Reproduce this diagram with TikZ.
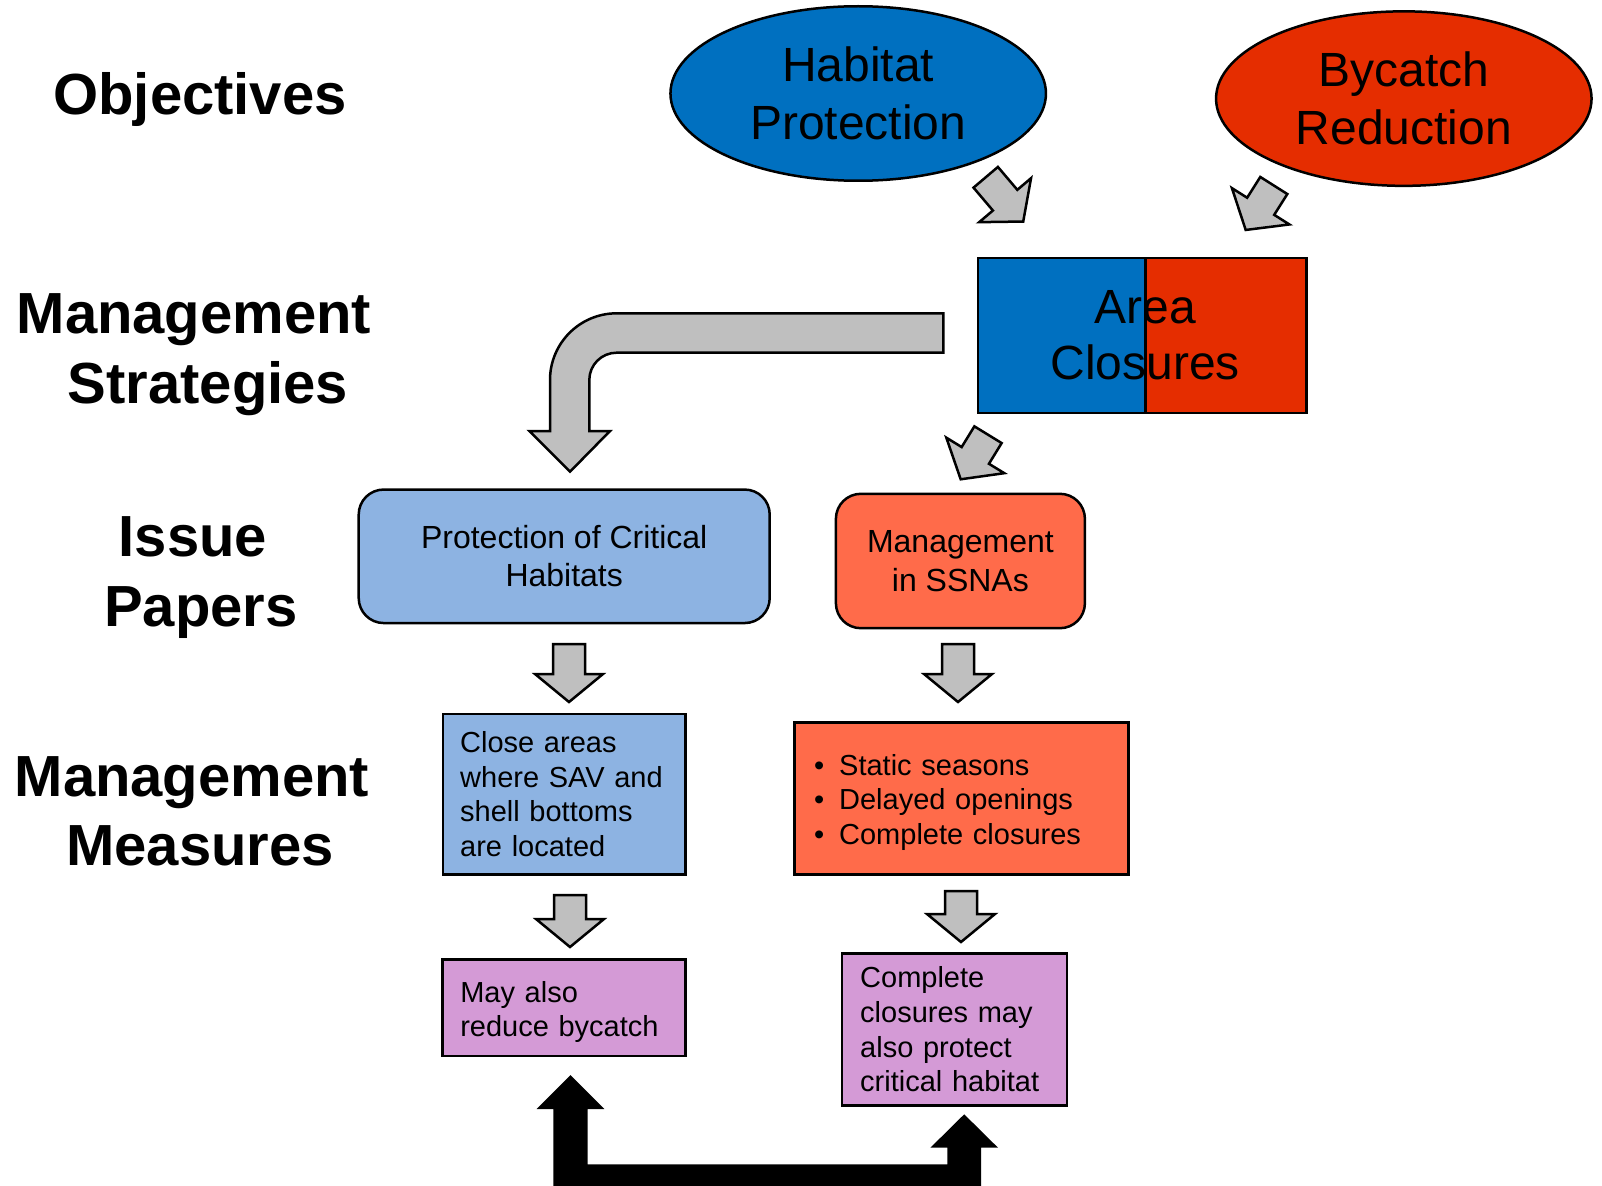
\documentclass[tikz,border=0pt]{standalone}
\usepackage{fontspec}
\setmainfont{Liberation Sans}
\usetikzlibrary{shapes.geometric}
\definecolor{hpblue}{HTML}{0070C0}
\definecolor{brred}{HTML}{E52D00}
\definecolor{lblue}{HTML}{8DB3E2}
\definecolor{coral}{HTML}{FF6B4A}
\definecolor{lilac}{HTML}{D49AD6}
\definecolor{garrowfill}{HTML}{BFBFBF}
\tikzset{
  garrow/.style={draw=black, fill=garrowfill, line width=2.5pt, line join=miter},
  pics/blockarrow/.style={code={\draw[garrow] (0,16) -- ({#1-28},16) -- ({#1-28},34) -- (#1,0) -- ({#1-28},-34) -- ({#1-28},-16) -- (0,-16) -- cycle;}},
  hdr/.style={font=\fontsize{58}{69.6}\selectfont\bfseries, align=center, inner sep=0pt, anchor=base},
  objell/.style={ellipse, draw, line width=2.5pt, inner sep=0pt, align=center, font=\fontsize{48}{57.6}\selectfont},
  issuebox/.style={draw, line width=2.5pt, rounded corners=25pt, inner sep=0pt, align=center, font=\fontsize{32}{38.4}\selectfont},
  measurebox/.style={draw, line width=2.5pt, inner sep=0pt, align=left, font=\fontsize{29}{34.6}\selectfont},
}
\begin{document}
\begin{tikzpicture}[x=1pt, y=-1pt]
\useasboundingbox (0,0) rectangle (1602,1185);
\fill[white] (0,0) rectangle (1602,1185);
\clip (0,0) rectangle (1602,1185);

% row labels (base anchor = baseline of the last line)
\node[hdr] (lobj) at (200,115) {Objectives};
\node[hdr] (lstr) at (202,403) {Management\makebox[16pt]{}\\\makebox[12pt]{}Strategies};
\node[hdr] (liss) at (201,626.5) {Issue\makebox[16pt]{}\\Papers};
\node[hdr] (lmea) at (200,865.8) {Management\makebox[16pt]{}\\Measures};

% objectives
\node[objell, fill=hpblue, minimum width=375.5pt, minimum height=174.5pt] (hab) at (858.2,93.5) {Habitat\\Protection};
\node[objell, fill=brred, minimum width=375.5pt, minimum height=174.5pt] (byc) at (1403.8,98.6) {Bycatch\\Reduction};

% strategy
\node[draw, line width=2.5pt, minimum width=328.5pt, minimum height=154.8pt, inner sep=0pt,
      align=center, font=\fontsize{48}{56.7}\selectfont,
      path picture={
        \fill[hpblue] (path picture bounding box.north west) rectangle ([xshift=3.5pt]path picture bounding box.south);
        \fill[brred] ([xshift=3.5pt]path picture bounding box.north) rectangle (path picture bounding box.south east);
        \draw[line width=2.5pt] ([xshift=3.5pt]path picture bounding box.north) -- ([xshift=3.5pt]path picture bounding box.south);
      }] (area) at (1142.2,335.35) {\makebox[6pt]{}Area\\\makebox[6pt]{}Closures};

% arrows objectives -> strategy
\pic[rotate=-49.7] at (985.7,177.3) {blockarrow=58};
\pic[rotate=-122.3] at (1273.8,185.5) {blockarrow=52.6};
% strategy -> issue papers
\pic[rotate=-121.5] at (988,434.7) {blockarrow=52.3};
\draw[garrow] (943.3,313.3) -- (616.7,313.3) arc[start angle=90, end angle=180, radius=66.7pt]
  -- (550,431) -- (529.3,431) -- (570,471.7) -- (610,431) -- (589.3,431) -- (589.3,380)
  arc[start angle=180, end angle=90, radius=27.3pt] -- (943.3,352.7) -- cycle;

% issue papers
\node[issuebox, fill=lblue, minimum width=411pt, minimum height=133.5pt] (prot) at (564.2,556.3) {Protection of Critical\\Habitats};
\node[issuebox, fill=coral, minimum width=249pt, minimum height=134.4pt] (ssna) at (960.4,561) {Management\\in SSNAs};

\pic[rotate=-90] at (569,644) {blockarrow=58};
\pic[rotate=-90] at (958,644) {blockarrow=58};

% measures
\node[measurebox, fill=lblue, minimum width=242.5pt, minimum height=160.5pt, text width=208pt] (close) at (564.2,794.2)
  {Close areas\\where SAV and\\shell bottoms\\are located};
\node[measurebox, fill=coral, minimum width=334pt, minimum height=152pt, text width=295pt] (bul) at (961.7,798.4)
  {\rule{0pt}{29pt}\makebox[25pt][l]{\textbullet}Static seasons\\\makebox[25pt][l]{\textbullet}Delayed openings\\\makebox[25pt][l]{\textbullet}Complete closures};

\pic[rotate=-90] at (570,895) {blockarrow=52};
\pic[rotate=-90] at (961,891) {blockarrow=51};

\node[measurebox, fill=lilac, minimum width=242.7pt, minimum height=96.6pt, text width=207.5pt] (may) at (564,1007.9)
  {\rule{0pt}{29pt}May also\\reduce bycatch};
\node[measurebox, fill=lilac, minimum width=225pt, minimum height=152pt, text width=188.6pt] (cc) at (954.5,1029.5)
  {Complete\\closures may\\also protect\\critical habitat};

% black double arrow between may and cc
\coordinate (tipl) at (570.5,1075);
\coordinate (tipr) at (964.2,1114.3);
\fill[black] (tipl) -- (604.3,1109) -- (587.7,1109) -- (587.7,1164.3) -- (947.3,1164.3) -- (947.3,1147.7)
  -- (930.4,1147.7) -- (tipr) -- (998,1147.7) -- (981,1147.7) -- (981,1192) -- (553.3,1192)
  -- (553.3,1109) -- (536.7,1109) -- cycle;
\end{tikzpicture}
\end{document}
